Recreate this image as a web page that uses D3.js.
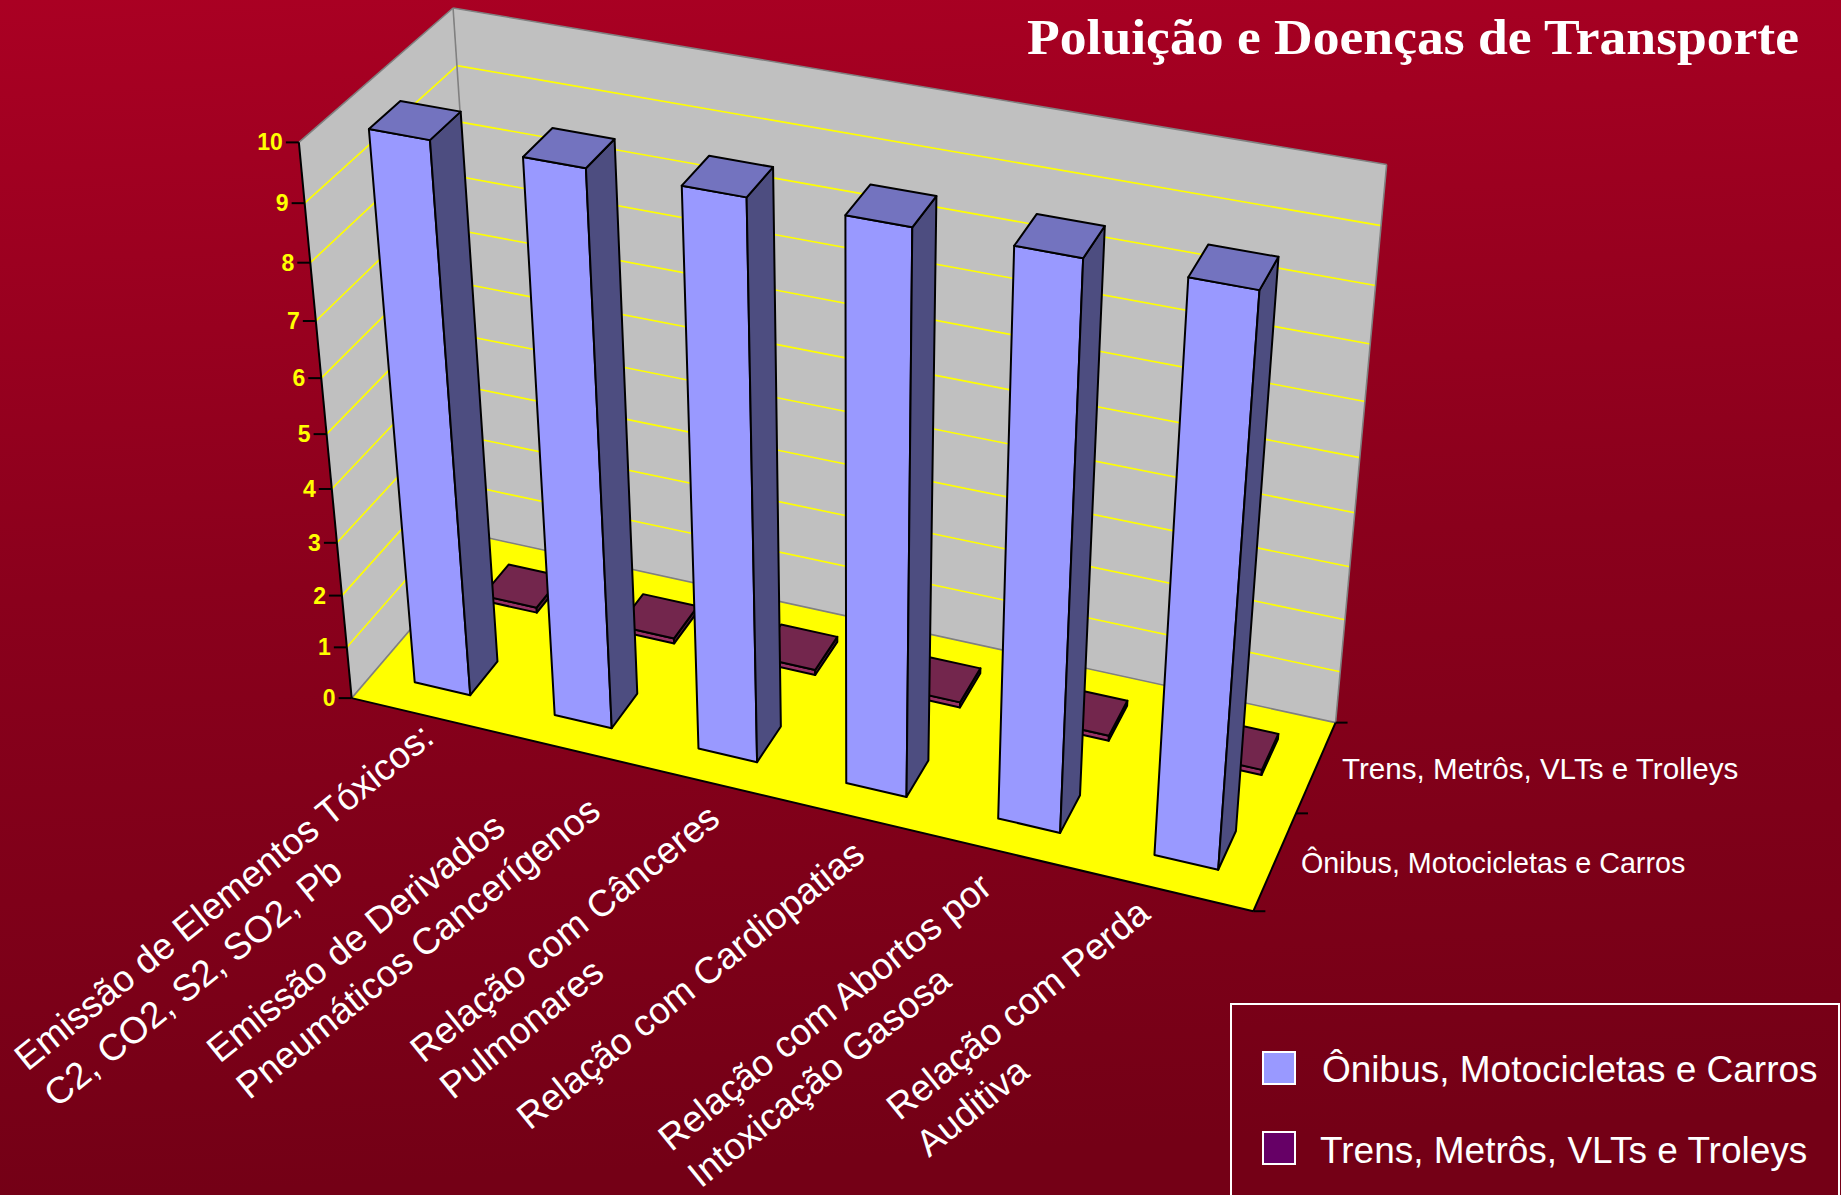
<!DOCTYPE html>
<html><head><meta charset="utf-8">
<script src="https://cdnjs.cloudflare.com/ajax/libs/d3/7.8.5/d3.min.js"></script>
<style>html,body{margin:0;padding:0;background:#7a0018;overflow:hidden}svg{display:block}text{font-family:"Liberation Sans",Arial,sans-serif}</style>
</head><body><script>
const title = "Poluição e Doenças de Transporte";
const categories = [
  ["Emissão de Elementos Tóxicos:", "C2, CO2, S2, SO2, Pb"],
  ["Emissão de Derivados", "Pneumáticos Cancerígenos"],
  ["Relação com Cânceres", "Pulmonares"],
  ["Relação com Cardiopatias"],
  ["Relação com Abortos por", "Intoxicação Gasosa"],
  ["Relação com Perda", "Auditiva"]
];
const seriesNames = ["Ônibus, Motocicletas e Carros", "Trens, Metrôs, VLTs e Trolleys"];
const legendNames = ["Ônibus, Motocicletas e Carros", "Trens, Metrôs, VLTs e Troleys"];
const onibus = [10, 10, 10, 10, 10, 10];
const trens = [0.1, 0.1, 0.1, 0.1, 0.1, 0.1];
const valueTicks = [0,1,2,3,4,5,6,7,8,9,10];

const W = 1841, H = 1195;
const svg = d3.select("body").append("svg").attr("width",W).attr("height",H);
const defs = svg.append("defs");
const bg = defs.append("linearGradient").attr("id","bg").attr("x1",0).attr("y1",0).attr("x2",0.08).attr("y2",1);
[[0,"#aa0023"],[0.5,"#8a001c"],[1,"#740016"]].forEach(s=>bg.append("stop").attr("offset",s[0]).attr("stop-color",s[1]));
svg.append("rect").attr("width",W).attr("height",H).attr("fill","url(#bg)");

// Scene calibration: screen positions of the plot box corners, fitted to a perspective camera
const calib=[
  [0,0,0,350.7,697.5],[1,0,0,1254,911],[1,1,0,1335,723],[0,1,0,489.5,538.5],
  [0,0,1,299.3,143.3],[0,1,1,452.7,7.3],[1,1,1,1386.6,164.4]
];
function fitCamera(pts){
  const rows=[],rhs=[];
  pts.forEach(([a,b,c,x,y])=>{
    x/=1000;y/=1000;
    rows.push([a,b,c,1,0,0,0,0,-x*a,-x*b,-x*c]);rhs.push(x);
    rows.push([0,0,0,0,a,b,c,1,-y*a,-y*b,-y*c]);rhs.push(y);
  });
  const n=11,M=d3.range(n).map(i=>d3.range(n+1).map(j=>{
    let s=0;rows.forEach((r,k)=>{s+=r[i]*(j<n?r[j]:rhs[k]);});return s;}));
  for(let i=0;i<n;i++){
    let p=i;for(let r=i+1;r<n;r++)if(Math.abs(M[r][i])>Math.abs(M[p][i]))p=r;
    [M[i],M[p]]=[M[p],M[i]];
    for(let r=0;r<n;r++){if(r===i)continue;const f=M[r][i]/M[i][i];for(let c=i;c<=n;c++)M[r][c]-=f*M[i][c];}
  }
  return d3.range(n).map(i=>M[i][n]/M[i][i]);
}
const cam=fitCamera(calib);
function project(a,b,c){
  const d=cam[8]*a+cam[9]*b+cam[10]*c+1;
  return [1000*(cam[0]*a+cam[1]*b+cam[2]*c+cam[3])/d,1000*(cam[4]*a+cam[5]*b+cam[6]*c+cam[7])/d];
}
// scales
const catIdx=d3.range(categories.length);
const u=d3.scaleBand().domain(catIdx).range([0,1]).paddingInner(0.6).paddingOuter(0.3);
const v=d3.scaleBand().domain([0,1]).range([0,1]).paddingInner(0.6).paddingOuter(0.3);
const wS=d3.scaleLinear().domain([0,10]).range([0,1]);
const P=(a,b,c)=>project(a,b,wS(c));
const poly=pts=>"M"+pts.map(p=>p.join(",")).join("L")+"Z";
const g=svg.append("g");

// walls & floor
g.append("path").attr("d",poly([P(0,0,0),P(0,1,0),P(0,1,10),P(0,0,10)])).attr("fill","#c0c0c0");
g.append("path").attr("d",poly([P(0,1,0),P(1,1,0),P(1,1,10),P(0,1,10)])).attr("fill","#c0c0c0");
g.append("path").attr("d",poly([P(0,0,0),P(1,0,0),P(1,1,0),P(0,1,0)])).attr("fill","#ffff00");
// gridlines
valueTicks.slice(1,-1).forEach(t=>{
  const l=d3.line();
  g.append("path").attr("d",l([P(0,0,t),P(0,1,t)])).attr("stroke","#ffff00").attr("stroke-width",1.6).attr("fill","none");
  g.append("path").attr("d",l([P(0,1,t),P(1,1,t)])).attr("stroke","#ffff00").attr("stroke-width",1.6).attr("fill","none");
});
// wall borders
[[P(0,0,10),P(0,1,10)],[P(0,1,10),P(1,1,10)],[P(1,1,10),P(1,1,0)],[P(0,1,10),P(0,1,0)],[P(0,1,0),P(1,1,0)],[P(0,0,0),P(0,1,0)]].forEach(s=>
  g.append("path").attr("d",d3.line()(s)).attr("stroke","#808080").attr("stroke-width",1.6).attr("fill","none"));
// axes
[[P(0,0,0),P(0,0,10)],[P(0,0,0),P(1,0,0)],[P(1,0,0),P(1,1,0)]].forEach(s=>
  g.append("path").attr("d",d3.line()(s)).attr("stroke","#000").attr("stroke-width",2).attr("fill","none"));
valueTicks.forEach(t=>{
  const p=P(0,0,t);
  g.append("line").attr("x1",p[0]-13).attr("x2",p[0]).attr("y1",p[1]).attr("y2",p[1]).attr("stroke","#000").attr("stroke-width",2);
  g.append("text").attr("x",p[0]-16).attr("y",p[1]+8).attr("text-anchor","end").attr("fill","#ffff00")
    .attr("font-weight","bold").attr("font-size",23).text(t);
});
[0,0.5,1].forEach(t=>{
  const p=P(1,t,0);
  g.append("line").attr("x1",p[0]).attr("x2",p[0]+12).attr("y1",p[1]).attr("y2",p[1]).attr("stroke","#000").attr("stroke-width",2);
});

// bars
const seriesStyle=[
  {vals:onibus,slot:0,front:"#9999ff",side:"#4d4d80",top:"#7373bf"},
  {vals:trens,slot:1,front:"#993366",side:"#4d1a33",top:"#73264d"}
];
function bar(i,s){
  const u0=u(i),u1=u0+u.bandwidth(),v0=v(s.slot),v1=v0+v.bandwidth(),val=s.vals[i];
  const face=(pts,col)=>g.append("path").attr("d",poly(pts)).attr("fill",col).attr("stroke","#000").attr("stroke-width",2).attr("stroke-linejoin","round");
  face([P(u0,v0,0),P(u1,v0,0),P(u1,v0,val),P(u0,v0,val)],s.front);
  face([P(u1,v0,0),P(u1,v1,0),P(u1,v1,val),P(u1,v0,val)],s.side);
  face([P(u0,v0,val),P(u1,v0,val),P(u1,v1,val),P(u0,v1,val)],s.top);
}
catIdx.forEach(i=>bar(i,seriesStyle[1]));
catIdx.forEach(i=>bar(i,seriesStyle[0]));

// title
svg.append("text").attr("x",1027).attr("y",54).attr("fill","#fff").attr("font-size",51).attr("font-weight","bold")
  .attr("textLength",772).attr("lengthAdjust","spacingAndGlyphs")
  .style("font-family","'Liberation Serif',serif").text(title);

// series-axis labels
svg.append("text").attr("x",1342).attr("y",779).attr("fill","#fff").attr("font-size",29.6).text(seriesNames[1]);
svg.append("text").attr("x",1301).attr("y",873).attr("fill","#fff").attr("font-size",28.7).text(seriesNames[0]);

// category labels: left-aligned lines, block ends under each category
const labelEndX=[436,573,722,867,994,1152];
const labelEndY=[741,778,822,858,891,917];
const lineH=47, angle=-39;
catIdx.forEach(i=>{
  const gr=svg.append("g").attr("transform",`translate(${labelEndX[i]},${labelEndY[i]}) rotate(${angle})`);
  const ts=categories[i].map((t,k)=>gr.append("text").attr("y",k*lineH).attr("fill","#fff").attr("font-size",37).text(t));
  const bw=d3.max(ts,t=>t.node().getComputedTextLength());
  ts.forEach(t=>t.attr("x",-bw));
});

// legend
svg.append("rect").attr("x",1231).attr("y",1004).attr("width",608).attr("height",300).attr("fill","none").attr("stroke","#fff").attr("stroke-width",2);
[["#9999ff",1052,1322,legendNames[0],1082],["#660066",1132,1320,legendNames[1],1163]].forEach(r=>{
  svg.append("rect").attr("x",1263).attr("y",r[1]).attr("width",32).attr("height",32).attr("fill",r[0]).attr("stroke","#fff").attr("stroke-width",2);
  svg.append("text").attr("x",r[2]).attr("y",r[4]).attr("fill","#fff").attr("font-size",37).text(r[3]);
});
</script></body></html>
